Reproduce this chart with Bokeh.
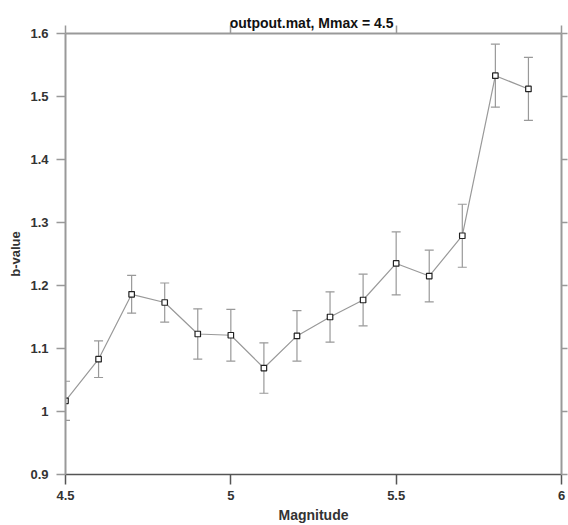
from bokeh.plotting import figure
from bokeh.models import (ColumnDataSource, Whisker, TeeHead, LinearAxis, FixedTicker,
                          Range1d, Title)
from bokeh.embed import file_html
from bokeh.resources import INLINE

# ---- data ----
magnitude = [4.5, 4.6, 4.7, 4.8, 4.9, 5.0, 5.1, 5.2, 5.3, 5.4, 5.5, 5.6, 5.7, 5.8, 5.9]
b_value = [1.017, 1.083, 1.186, 1.173, 1.123, 1.121, 1.069, 1.120, 1.150, 1.177,
           1.235, 1.215, 1.279, 1.533, 1.512]
b_err = [0.031, 0.029, 0.030, 0.031, 0.040, 0.041, 0.040, 0.040, 0.040, 0.041,
         0.050, 0.041, 0.050, 0.050, 0.050]

x_ticks = [4.5, 5.0, 5.5, 6.0]
x_tick_labels = ["4.5", "5", "5.5", "6"]
y_ticks = [0.9, 1.0, 1.1, 1.2, 1.3, 1.4, 1.5, 1.6]
y_tick_labels = ["0.9", "1", "1.1", "1.2", "1.3", "1.4", "1.5", "1.6"]

title_text = "outpout.mat,  Mmax = 4.5"
x_label = "Magnitude"
y_label = "b-value"
x_lo, x_hi = 4.5, 6.0
y_lo, y_hi = 0.9, 1.6

upper = [b + e for b, e in zip(b_value, b_err)]
lower = [b - e for b, e in zip(b_value, b_err)]
src = ColumnDataSource(dict(x=magnitude, y=b_value, upper=upper, lower=lower))

FONT = "Liberation Sans"

p = figure(width=568, height=525, output_backend="svg", toolbar_location=None,
           x_range=Range1d(x_lo, x_hi), y_range=Range1d(y_lo, y_hi),
           min_border_left=65, min_border_right=7, min_border_top=33, min_border_bottom=50,
           x_axis_location=None, y_axis_location=None)
p.outline_line_color = None
p.background_fill_color = "white"
p.border_fill_color = "white"
p.xgrid.visible = False
p.ygrid.visible = False


def style_axis(ax, ticks, labels, color, width, show_labels, tick_out):
    ax.ticker = FixedTicker(ticks=ticks)
    ax.axis_line_color = color
    ax.axis_line_width = width
    ax.major_tick_line_color = color
    ax.major_tick_line_width = 1.5
    ax.major_tick_out = tick_out
    ax.major_tick_in = 0
    ax.minor_tick_out = 0
    ax.minor_tick_in = 0
    if show_labels:
        ax.major_label_overrides = {t: l for t, l in zip(ticks, labels)}
        ax.major_label_text_font = FONT
        ax.major_label_text_font_size = "13px"
        ax.major_label_text_font_style = "bold"
        ax.major_label_text_color = "#333333"
        ax.major_label_standoff = 8
    else:
        ax.major_label_overrides = {t: "" for t in ticks}
        ax.major_label_standoff = 0


bottom = LinearAxis(axis_label=x_label)
style_axis(bottom, x_ticks, x_tick_labels, "#555555", 1.5, True, 10)
bottom.major_label_standoff = 6
bottom.axis_label_text_font = FONT
bottom.axis_label_text_font_size = "14px"
bottom.axis_label_text_font_style = "bold"
bottom.axis_label_text_color = "#333333"
bottom.axis_label_standoff = 4
p.add_layout(bottom, "below")

left = LinearAxis(axis_label=y_label)
style_axis(left, y_ticks, y_tick_labels, "#999999", 2, True, 9)
left.axis_label_text_font = FONT
left.axis_label_text_font_size = "13px"
left.axis_label_text_font_style = "bold"
left.axis_label_text_color = "#333333"
left.axis_label_standoff = 4
p.add_layout(left, "left")

top = LinearAxis()
style_axis(top, x_ticks, x_tick_labels, "#999999", 2, False, 8)
p.add_layout(top, "above")

right = LinearAxis()
style_axis(right, y_ticks, y_tick_labels, "#999999", 2, False, 6)
p.add_layout(right, "right")

# error bars
wh = Whisker(source=src, base="x", upper="upper", lower="lower",
             line_color="#999999", line_width=1.2,
             upper_head=TeeHead(size=9, line_color="#999999", line_width=1.2),
             lower_head=TeeHead(size=9, line_color="#999999", line_width=1.2))
p.add_layout(wh)

p.line("x", "y", source=src, line_color="#999999", line_width=1.2)
p.scatter("x", "y", source=src, marker="square", size=5.5, fill_color="white",
          line_color="#222222", line_width=1.2)

p.add_layout(Title(text=title_text, align="center", text_font=FONT,
                   text_font_size="14px", text_font_style="bold",
                   text_color="#111111", standoff=-10), "above")

open("out.html", "w").write(file_html(p, INLINE))
